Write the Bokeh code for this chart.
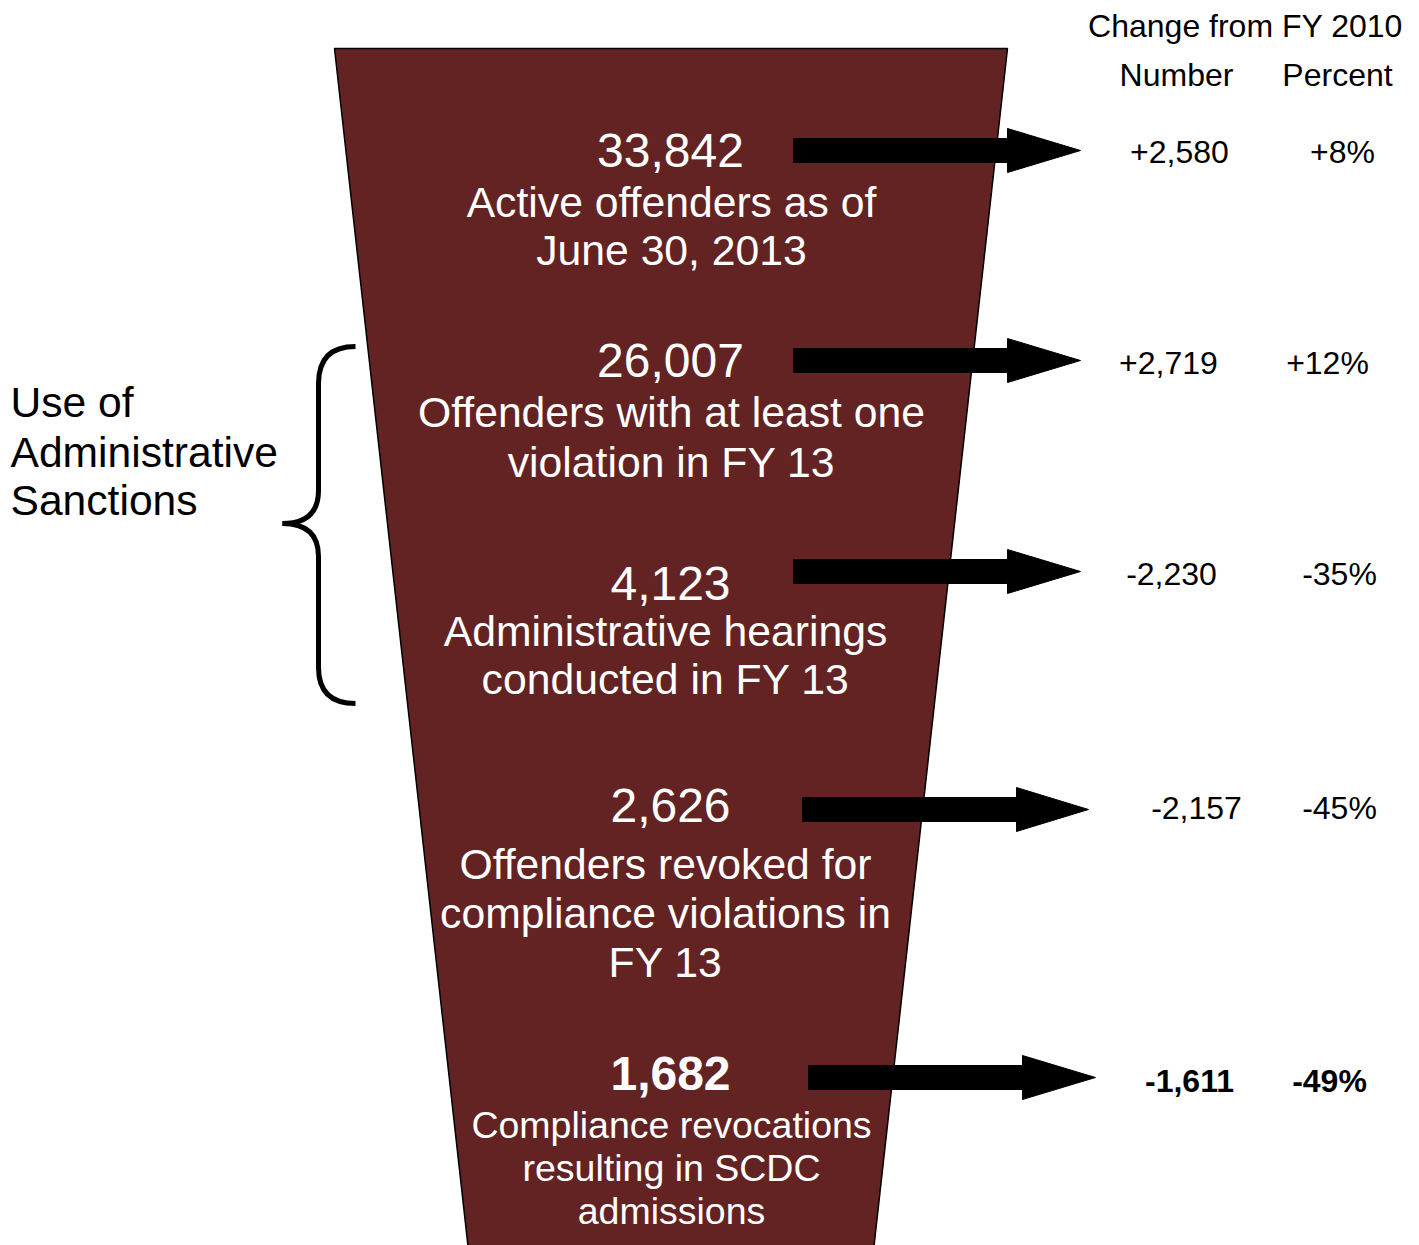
from bokeh.plotting import figure
from bokeh.core.properties import value
from bokeh.embed import file_html
from bokeh.resources import INLINE

# ---------------- data ----------------
counts = [33842, 26007, 4123, 2626, 1682]
labels = [
    ["Active offenders as of", "June 30, 2013"],
    ["Offenders with at least one", "violation in FY 13"],
    ["Administrative hearings", "conducted in FY 13"],
    ["Offenders revoked for", "compliance violations in", "FY 13"],
    ["Compliance revocations", "resulting in SCDC", "admissions"],
]
change_number = [2580, 2719, -2230, -2157, -1611]
change_percent = [8, 12, -35, -45, -49]
highlight = [False, False, False, False, True]
header_title = "Change from FY 2010"
header_cols = ["Number", "Percent"]
side_label = ["Use of", "Administrative", "Sanctions"]

# ---------------- layout ----------------
W, H = 1419, 1245
FONT = value("Arial")
FILL = "#632323"

num_mid = [150, 360, 583, 805, 1073]
num_x = 670
label_x = [671, 671, 665, 665, 671]
label_mid = [[201, 249], [411, 461], [630, 678], [863, 912, 961], [1124, 1167, 1210]]
label_size = ["42.7px", "42.7px", "42.7px", "42.7px", "37.5px"]

arrow_y = [150, 360, 571, 809, 1077]
arrow_x0 = [793, 793, 793, 802, 808]
arrow_base = [1007, 1007, 1007, 1016, 1022]
arrow_tip = [1080, 1080, 1080, 1088, 1095]
shaft_half, head_half = 12, 22

chg_y = [151, 362, 573, 807, 1080]
chg_num_x = [1179, 1168, 1171, 1196, 1189]
chg_pct_x = [1342, 1327, 1339, 1339, 1329]

p = figure(width=W, height=H, x_range=(0, W), y_range=(H, 0),
           x_axis_type=None, y_axis_type=None, toolbar_location=None,
           output_backend="svg", min_border=0)
p.grid.visible = False
p.outline_line_color = None
p.background_fill_color = "white"

# funnel
p.patch([334, 1007, 873, 468], [48, 48, H + 5, H + 5],
        fill_color=FILL, line_color="black", line_width=1.5)

# arrows
axs, ays = [], []
for y, x0, xb, xt in zip(arrow_y, arrow_x0, arrow_base, arrow_tip):
    axs.append([x0, xb, xb, xt, xb, xb, x0])
    ays.append([y - shaft_half, y - shaft_half, y - head_half, y,
                y + head_half, y + shaft_half, y + shaft_half])
p.patches(axs, ays, fill_color="black", line_color="black", line_width=1)

# numbers + labels inside funnel
for i, v in enumerate(counts):
    p.text(x=[num_x], y=[num_mid[i]], text=[f"{v:,}"], text_font=FONT,
           text_font_size="48px", text_color="white", text_align="center",
           text_baseline="middle",
           text_font_style="bold" if highlight[i] else "normal")
    for line, ym in zip(labels[i], label_mid[i]):
        p.text(x=[label_x[i]], y=[ym], text=[line], text_font=FONT,
               text_font_size=label_size[i], text_color="white",
               text_align="center", text_baseline="middle")

# header
p.text(x=[1245], y=[25], text=[header_title], text_font=FONT, text_font_size="32px",
       text_color="black", text_align="center", text_baseline="middle")
p.text(x=[1176, 1337], y=[74, 74], text=header_cols, text_font=FONT,
       text_font_size="32px", text_color="black", text_align="center",
       text_baseline="middle")

# change values
for i in range(len(counts)):
    n = change_number[i]
    pc = change_percent[i]
    ns = ("+" if n > 0 else "-") + f"{abs(n):,}"
    ps = ("+" if pc > 0 else "-") + f"{abs(pc)}%"
    style = "bold" if highlight[i] else "normal"
    p.text(x=[chg_num_x[i], chg_pct_x[i]], y=[chg_y[i]] * 2, text=[ns, ps],
           text_font=FONT, text_font_size="32px", text_color="black",
           text_align="center", text_baseline="middle", text_font_style=style)

# side label
for line, ym in zip(side_label, [401, 451, 499]):
    p.text(x=[10], y=[ym], text=[line], text_font=FONT, text_font_size="42.6px",
           text_color="black", text_align="left", text_baseline="middle")

# brace
bw = 5
p.quadratic(x0=[355, 318, 282, 318], y0=[346, 490, 523, 667],
            x1=[318, 282, 318, 355], y1=[383, 523, 556, 703],
            cx=[318, 318, 318, 318], cy=[346, 523, 523, 703],
            line_color="black", line_width=bw)
p.segment(x0=[318, 318], y0=[382, 555], x1=[318, 318], y1=[491, 668],
          line_color="black", line_width=bw)

open("out.html", "w").write(file_html(p, INLINE))
